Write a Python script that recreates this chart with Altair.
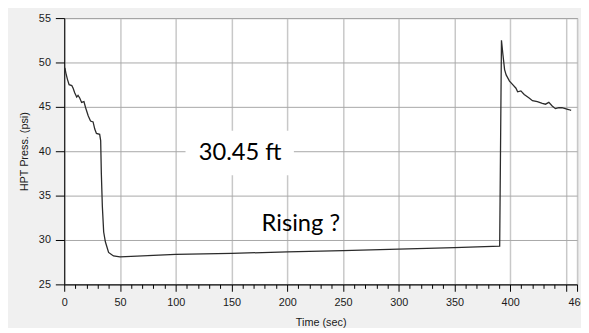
import altair as alt
import pandas as pd

# ---- data ----
time_s = [0.6, 1.5, 2.9, 4.4, 6.8, 8.0, 9.4, 11.2, 12.4, 13.9, 15.6, 17.7, 19.2, 21.5,
          23.6, 25.9, 27.4, 28.9, 31.8, 32.7, 33.3, 34.2, 35.4, 36.9, 39.8, 44.2, 50.0,
          100.0, 150.0, 200.0, 250.0, 300.0, 350.0, 390.6,
          392.2, 393.5, 395.0, 396.4, 399.4, 402.3, 405.2, 406.7, 409.6, 412.6, 417.0,
          420.0, 424.4, 428.8, 431.7, 434.7, 437.7, 440.6, 443.6, 446.5, 449.4, 452.4, 454.7]
press_psi = [49.4, 48.8, 48.1, 47.5, 47.4, 47.1, 46.6, 46.1, 46.3, 46.0, 45.5, 45.6, 44.9, 44.0,
             43.4, 43.3, 42.5, 42.0, 41.9, 41.2, 37.5, 33.8, 30.9, 29.8, 28.6, 28.2, 28.1,
             28.37, 28.5, 28.65, 28.8, 28.98, 29.15, 29.3,
             52.5, 50.9, 49.2, 48.6, 47.9, 47.5, 47.1, 46.7, 46.8, 46.4, 46.0,
             45.7, 45.6, 45.4, 45.3, 45.5, 45.1, 44.8, 44.9, 44.9, 44.8, 44.7, 44.6]

note_text = ["30.45 ft", "Rising ?"]
note_t = [157.8, 212.2]
note_p = [39.8, 31.8]

box_t = [108.8]
box_t2 = [206.0]
box_p = [42.3]
box_p2 = [37.3]

x_ticks = list(range(0, 461, 10))
y_ticks = list(range(25, 56, 5))

line_df = pd.DataFrame({"t": time_s, "p": press_psi})
note_df = pd.DataFrame({"t": note_t, "p": note_p, "label": note_text})
box_df = pd.DataFrame({"t": box_t, "t2": box_t2, "p": box_p, "p2": box_p2})

major = "datum.value % 50 == 0 || datum.value == 460"

x_scale = alt.Scale(domain=[0, 460], nice=False, zero=False)
y_scale = alt.Scale(domain=[25, 55], nice=False, zero=False)

x_axis = alt.Axis(
    values=x_ticks,
    tickCount=200,
    format="d",
    title="Time (sec)",
    grid=True,
    gridColor="#c8c8c8",
    gridWidth=1.5,
    gridOpacity={"condition": {"test": major, "value": 1}, "value": 0},
    tickSize={"condition": {"test": major, "value": 7}, "value": 4},
    tickColor="black",
    domainColor="black",
    labelExpr="(datum.value % 50 == 0 && datum.value != 450) || datum.value == 460 ? datum.label : ''",
    labelOverlap=False,
    labelFlush=False,
    labelPadding=5,
    labelFont="Liberation Sans",
    labelFontSize=11,
    labelColor="#1a1a1a",
    titleFont="Liberation Sans",
    titleFontSize=11,
    titleFontWeight="normal",
    titleColor="#1a1a1a",
    titlePadding=10,
)

y_axis = alt.Axis(
    values=y_ticks,
    format="d",
    title="HPT Press. (psi)",
    grid=True,
    gridColor="#a8a8a8",
    gridWidth=1,
    tickSize=9,
    tickColor="black",
    domainColor="black",
    labelPadding=5,
    labelFont="Liberation Sans",
    labelFontSize=11,
    labelColor="#1a1a1a",
    titleFont="Liberation Sans",
    titleFontSize=11,
    titleFontWeight="normal",
    titleColor="#1a1a1a",
    titlePadding=9,
)

line = alt.Chart(line_df).mark_line(color="#2b2b2b", strokeWidth=1.3).encode(
    x=alt.X("t:Q", scale=x_scale, axis=x_axis),
    y=alt.Y("p:Q", scale=y_scale, axis=y_axis),
)

box = alt.Chart(box_df).mark_rect(fill="white").encode(
    x="t:Q", x2="t2:Q", y="p:Q", y2="p2:Q"
)

notes = alt.Chart(note_df).mark_text(
    font="Lato", fontSize=24, color="black", align="center", baseline="middle"
).encode(
    x="t:Q", y="p:Q", text="label:N"
)

chart = alt.layer(box, line, notes).properties(
    width=520,
    height=270,
    autosize=alt.AutoSizeParams(type="none"),
    padding={"left": 57, "top": 8, "right": 4, "bottom": 42},
    background="#f0f0f0",
).configure_view(
    fill="white", stroke="#707070", strokeWidth=1
)

chart.save("out.html", embed_options={"renderer": "svg", "actions": False})
